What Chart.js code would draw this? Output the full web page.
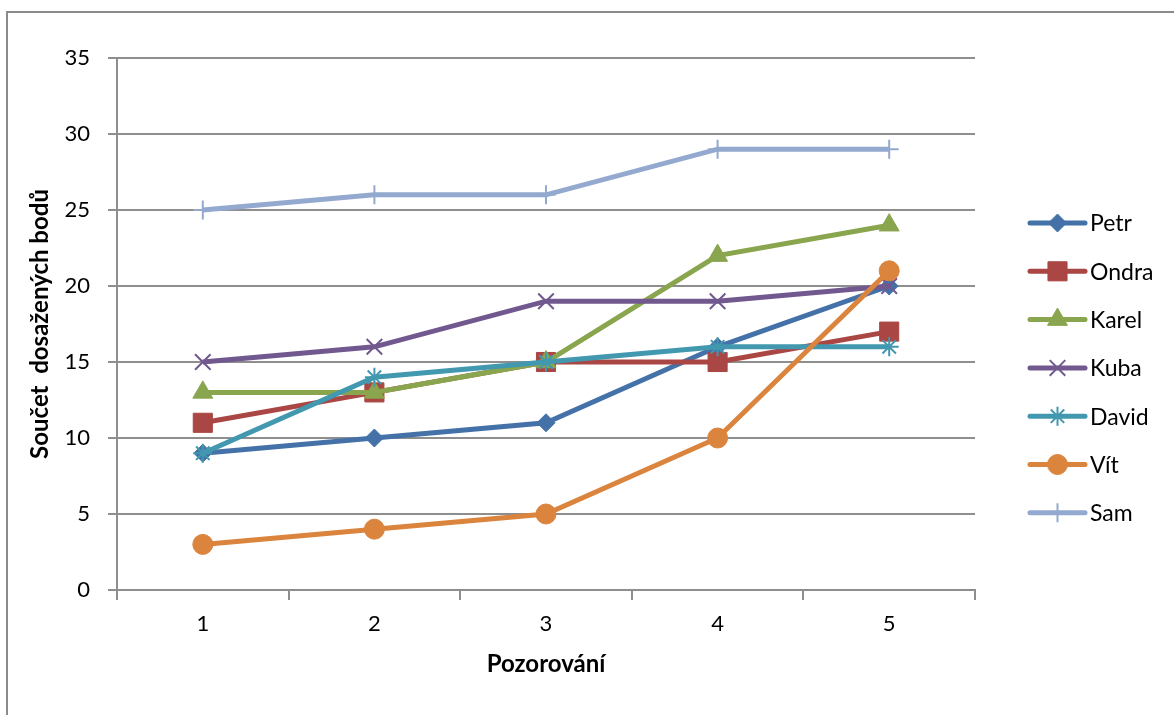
<!DOCTYPE html>
<html>
<head>
<meta charset="utf-8">
<script src="https://cdn.jsdelivr.net/npm/chart.js@4.4.1/dist/chart.umd.min.js"></script>
<style>
  html, body { margin: 0; padding: 0; background: #ffffff; }
  #wrap { width: 1174px; height: 715px; position: relative; }
  canvas { display: block; }
</style>
</head>
<body>
<div id="wrap"><canvas id="chart" width="1174" height="715"></canvas></div>
<script>
// Observation rounds on the x axis
const categories = ['1', '2', '3', '4', '5'];

// Points collected by each player per observation
const petr  = [9, 10, 11, 16, 20];
const ondra = [11, 13, 15, 15, 17];
const karel = [13, 13, 15, 22, 24];
const kuba  = [15, 16, 19, 19, 20];
const david = [9, 14, 15, 16, 16];
const vit   = [3, 4, 5, 10, 21];
const sam   = [25, 26, 26, 29, 29];

const seriesNames = ['Petr', 'Ondra', 'Karel', 'Kuba', 'David', 'Vít', 'Sam'];

// Value axis range and step
const yMin = 0;
const yMax = 35;
const yStep = 5;

const FONT = 'Lato, "Open Sans", "DejaVu Sans", sans-serif';
const GRID = '#8e8e8e';

const styles = [
  { color: '#4472A8', shape: 'rectRot',  radius: 9,    bw: 1 },
  { color: '#AA4643', shape: 'rect',     radius: 13.5, bw: 1 },
  { color: '#89A54E', shape: 'triangle', radius: 11.5, bw: 1 },
  { color: '#71588F', shape: 'crossRot', radius: 11,   bw: 2 },
  { color: '#4198AF', shape: 'star',     radius: 9.5,  bw: 2 },
  { color: '#DB843D', shape: 'circle',   radius: 10,   bw: 1 },
  { color: '#93A9CF', shape: 'cross',    radius: 9.5,  bw: 2 }
];

const values = [petr, ondra, karel, kuba, david, vit, sam];

const datasets = values.map((v, i) => ({
  label: seriesNames[i],
  data: v,
  borderColor: styles[i].color,
  backgroundColor: styles[i].color,
  borderWidth: 5,
  tension: 0,
  pointStyle: styles[i].shape,
  pointRadius: styles[i].radius,
  pointHoverRadius: styles[i].radius,
  pointBorderWidth: styles[i].bw,
  pointBackgroundColor: styles[i].color,
  pointBorderColor: styles[i].color,
  order: values.length - 1 - i,   // later series painted on top
  clip: false
}));

// Marker painter for the legend swatches
function drawMarker(ctx, shape, x, y, r, color, bw) {
  ctx.save();
  ctx.fillStyle = color;
  ctx.strokeStyle = color;
  ctx.lineWidth = bw;
  ctx.beginPath();
  const q = Math.SQRT1_2 * r;
  switch (shape) {
    case 'rectRot':
      ctx.moveTo(x, y - r); ctx.lineTo(x + r, y); ctx.lineTo(x, y + r); ctx.lineTo(x - r, y);
      ctx.closePath(); ctx.fill(); ctx.stroke(); break;
    case 'rect':
      ctx.rect(x - q, y - q, 2 * q, 2 * q); ctx.fill(); ctx.stroke(); break;
    case 'triangle': {
      const h = r * 0.5;
      ctx.moveTo(x, y - r);
      ctx.lineTo(x + r * Math.sqrt(3) / 2, y + h);
      ctx.lineTo(x - r * Math.sqrt(3) / 2, y + h);
      ctx.closePath(); ctx.fill(); ctx.stroke(); break;
    }
    case 'circle':
      ctx.arc(x, y, r, 0, Math.PI * 2); ctx.fill(); ctx.stroke(); break;
    case 'crossRot':
      ctx.moveTo(x - q, y - q); ctx.lineTo(x + q, y + q);
      ctx.moveTo(x - q, y + q); ctx.lineTo(x + q, y - q);
      ctx.stroke(); break;
    case 'cross':
      ctx.moveTo(x, y - r); ctx.lineTo(x, y + r);
      ctx.moveTo(x - r, y); ctx.lineTo(x + r, y);
      ctx.stroke(); break;
    case 'star':
      ctx.moveTo(x, y - r); ctx.lineTo(x, y + r);
      ctx.moveTo(x - r, y); ctx.lineTo(x + r, y);
      ctx.moveTo(x - q, y - q); ctx.lineTo(x + q, y + q);
      ctx.moveTo(x - q, y + q); ctx.lineTo(x + q, y - q);
      ctx.stroke(); break;
  }
  ctx.restore();
}

// Frame around the chart and the side legend
const decorations = {
  id: 'decorations',
  beforeDraw(chart) {
    const ctx = chart.ctx;
    ctx.save();
    ctx.fillStyle = '#ffffff';
    ctx.fillRect(0, 0, chart.width, chart.height);
    ctx.strokeStyle = '#8a8a8a';
    ctx.lineWidth = 2;
    ctx.beginPath();
    ctx.moveTo(7, chart.height);
    ctx.lineTo(7, 12);
    ctx.lineTo(chart.width, 12);
    ctx.stroke();
    ctx.restore();
  },
  afterDraw(chart) {
    const ctx = chart.ctx;
    const x0 = 1030, x1 = 1085, tx = 1090;
    const top = 223, gap = 48.3;
    chart.data.datasets.forEach((ds, i) => {
      const y = top + i * gap;
      const s = styles[i];
      ctx.save();
      ctx.strokeStyle = s.color;
      ctx.lineWidth = 5;
      ctx.lineCap = 'round';
      ctx.beginPath();
      ctx.moveTo(x0, y);
      ctx.lineTo(x1, y);
      ctx.stroke();
      ctx.restore();
      drawMarker(ctx, s.shape, (x0 + x1) / 2, y, s.radius, s.color, s.bw);
      ctx.save();
      ctx.fillStyle = '#000000';
      ctx.font = '23px ' + FONT;
      ctx.textAlign = 'left';
      ctx.textBaseline = 'middle';
      ctx.fillText(ds.label, tx, y + 1);
      ctx.restore();
    });
  }
};

new Chart(document.getElementById('chart'), {
  type: 'line',
  data: { labels: categories, datasets },
  options: {
    responsive: false,
    animation: false,
    devicePixelRatio: 1,
    layout: { padding: { top: 58, right: 199, bottom: 0, left: 0 } },
    plugins: {
      legend: { display: false },
      tooltip: { enabled: false }
    },
    scales: {
      x: {
        type: 'category',
        offset: true,
        grid: {
          display: true,
          drawOnChartArea: false,
          drawTicks: true,
          tickLength: 10,
          offset: true,
          color: GRID,
          lineWidth: 2
        },
        border: { display: true, color: GRID, width: 2 },
        ticks: { color: '#000', padding: 11, font: { family: FONT, size: 22 } },
        title: {
          display: true,
          text: 'Pozorování',
          color: '#000',
          font: { family: FONT, size: 24, weight: 'bold' },
          padding: { top: 0, bottom: 36 }
        },
        afterFit(scale) { scale.height = 125; }
      },
      y: {
        min: yMin,
        max: yMax,
        grid: {
          color: GRID,
          lineWidth: 2,
          tickLength: 9,
          drawTicks: true
        },
        border: { display: true, color: GRID, width: 2 },
        ticks: {
          stepSize: yStep,
          color: '#000',
          padding: 18,
          font: { family: FONT, size: 22 }
        },
        title: {
          display: true,
          text: 'Součet  dosažených bodů',
          color: '#000',
          font: { family: FONT, size: 24, weight: 'bold' },
          padding: { top: 26, bottom: 0 }
        },
        afterFit(scale) { scale.width = 117; }
      }
    }
  },
  plugins: [decorations]
});
</script>
</body>
</html>
